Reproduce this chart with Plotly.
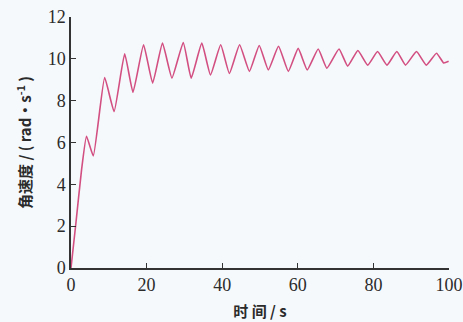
import plotly.graph_objects as go

time_s = [0, 1.3, 2.8, 4.1, 5.9, 8.9, 11.4, 14.2, 16.4, 19.2, 21.6, 24.2, 26.7, 29.7, 31.8,
          34.6, 36.9, 39.6, 41.9, 44.6, 47.2, 49.8, 52.2, 54.9, 57.5, 60.1, 62.5, 65.4, 67.7,
          70.9, 73.2, 75.9, 78.5, 81.1, 83.6, 86.2, 88.5, 91.4, 94.0, 96.7, 98.6, 99.9]
omega = [0, 2.15, 4.7, 6.3, 5.36, 9.1, 7.48, 10.24, 8.4, 10.67, 8.84, 10.75, 9.08, 10.78, 9.08,
         10.75, 9.23, 10.67, 9.3, 10.67, 9.4, 10.64, 9.47, 10.6, 9.4, 10.5, 9.47, 10.47, 9.55,
         10.47, 9.65, 10.4, 9.7, 10.35, 9.7, 10.35, 9.7, 10.35, 9.7, 10.27, 9.8, 9.88]

x_ticks = [0, 20, 40, 60, 80, 100]
y_ticks = [0, 2, 4, 6, 8, 10, 12]

fig = go.Figure()
fig.add_trace(go.Scatter(x=time_s, y=omega, mode="lines", line=dict(color="#d24f82", width=1.6, shape="spline", smoothing=0.4), cliponaxis=False))

tickfont = dict(family="Liberation Serif", size=18, color="#2b2b2b")
fig.update_layout(
    width=463, height=322,
    margin=dict(l=71, r=14, t=17, b=54),
    paper_bgcolor="#f6f9fb", plot_bgcolor="#f6f9fb",
    showlegend=False,
    xaxis=dict(range=[0, 100], tickvals=x_ticks, showgrid=False, zeroline=False, automargin=False,
               showline=True, linecolor="#333333", linewidth=1.5, ticklabeloverflow="allow",
               ticks="inside", ticklen=5, tickcolor="#333333", tickwidth=1.3,
               tickfont=tickfont,
               title=dict(text="<b>时 间 / s</b>", font=dict(family="Noto Sans CJK SC", size=15, color="#2b2b2b"), standoff=12)),
    yaxis=dict(range=[0, 12], tickvals=y_ticks, showgrid=False, zeroline=False, automargin=False,
               showline=True, linecolor="#333333", linewidth=1.5, ticklabeloverflow="allow",
               ticks="inside", ticklen=5, tickcolor="#333333", tickwidth=1.3,
               tickfont=tickfont,
               title=dict(text="<b>角速度 / ( rad·s<sup>-1</sup> )</b>", font=dict(family="Noto Sans CJK SC", size=15, color="#2b2b2b"), standoff=12)),
)
fig.write_html("out.html", config={"displayModeBar": False},
               post_script="document.body.style.margin='0';document.body.style.background='#f6f9fb';")
